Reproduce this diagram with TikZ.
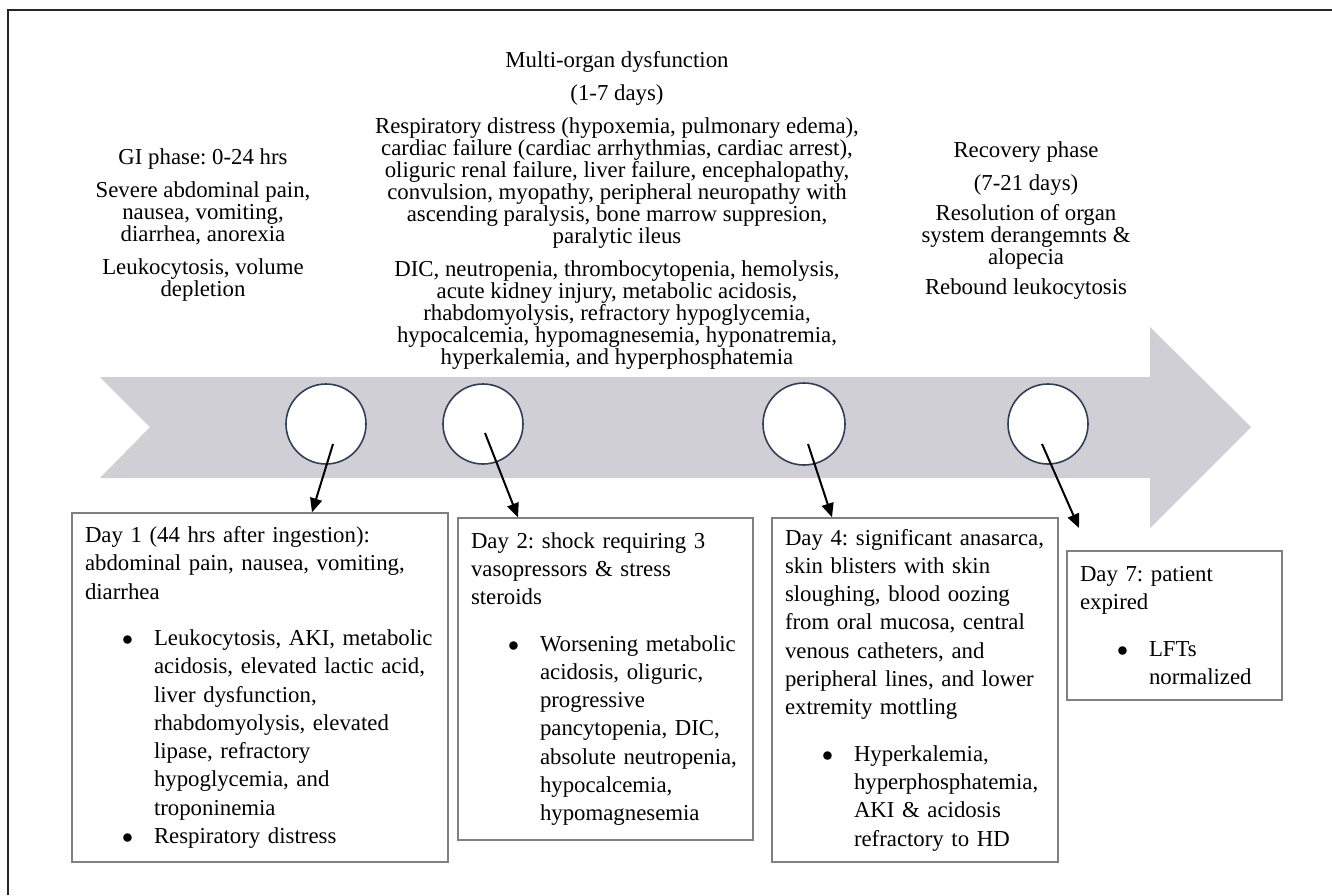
\documentclass[tikz,border=0pt]{standalone}
\usepackage{fontspec}
\setmainfont{Liberation Serif}
\usetikzlibrary{arrows.meta}

\definecolor{bandgray}{RGB}{207,207,213}
\definecolor{ringblue}{RGB}{47,63,90}
\definecolor{boxgray}{RGB}{128,128,128}

\frenchspacing
\newcommand{\dotgap}{\par\vspace{9pt}}
\newcommand{\dotitem}[1]{\par{\leftskip=34.5pt\noindent\llap{$\bullet$\hspace{10.5pt}}#1\par}}

\begin{document}
\begin{tikzpicture}[x=0.5pt,y=-0.5pt,
    phase/.style={align=center,anchor=north,inner sep=0pt,font=\fontsize{11.4}{11}\selectfont},
    ring/.style={circle,draw=ringblue,line width=0.8pt,fill=white,minimum size=40pt,inner sep=0pt},
    daybox/.style={draw=boxgray,line width=0.7pt,align=left,inner xsep=6.5pt,font=\fontsize{11.4}{14.15}\selectfont},
    pointer/.style={-{Triangle[length=7pt,width=6pt]},line width=1pt}]
    {
    \def\bandtop{377}
    \def\bandbot{478}
    \def\headtop{327}
    \def\headbot{528}
    \def\midy{427}

    \useasboundingbox (0,0) rectangle (1332,895);

    \draw[black!85,line width=1pt] (8,895) -- (8,10) -- (1332,10);

    % timeline band
    \fill[bandgray] (100,\bandtop) -- (1150,\bandtop) -- (1150,\headtop) -- (1251,\midy)
        -- (1150,\headbot) -- (1150,\bandbot) -- (100,\bandbot) -- (150,\midy) -- cycle;

    % phases
    \node[phase] (gi) at (203,148) {GI phase: 0-24 hrs\\[5.5pt]
        Severe abdominal pain,\\ nausea, vomiting,\\ diarrhea, anorexia\\[5.5pt]
        Leukocytosis, volume\\ depletion};
    \node[phase] (mod) at (617,51) {Multi-organ dysfunction\\[5.5pt]
        (1-7 days)\\[5.5pt]
        Respiratory distress (hypoxemia, pulmonary edema),\\
        cardiac failure (cardiac arrhythmias, cardiac arrest),\\
        oliguric renal failure, liver failure, encephalopathy,\\
        convulsion, myopathy, peripheral neuropathy with\\
        ascending paralysis, bone marrow suppresion,\\
        paralytic ileus\\[5.5pt]
        DIC, neutropenia, thrombocytopenia, hemolysis,\\
        acute kidney injury, metabolic acidosis,\\
        rhabdomyolysis, refractory hypoglycemia,\\
        hypocalcemia, hypomagnesemia, hyponatremia,\\
        hyperkalemia, and hyperphosphatemia};
    \node[phase] (rec) at (1026,141) {Recovery phase\\[5.5pt]
        (7-21 days)\\[4pt]
        Resolution of organ\\ system derangemnts \&\\ alopecia\\[4pt]
        Rebound leukocytosis};

    % markers on the band
    \node[ring] (r1) at (326,424) {};
    \node[ring] (r2) at (483,424) {};
    \node[ring,minimum size=41pt] (r3) at (804,424) {};
    \node[ring] (r4) at (1048,424) {};

    % day boxes
    \node[daybox,text width=175pt,minimum width=188pt,minimum height=174.5pt] (d1) at (260,687.5)
        {Day 1 (44 hrs after ingestion):\\ abdominal pain, nausea, vomiting,\\ diarrhea\dotgap
        \dotitem{Leukocytosis, AKI, metabolic\\ acidosis, elevated lactic acid,\\ liver dysfunction,\\
        rhabdomyolysis, elevated\\ lipase, refractory\\ hypoglycemia, and\\ troponinemia}
        \dotitem{Respiratory distress}};
    \node[daybox,text width=134.5pt,minimum width=147.5pt,minimum height=161pt] (d2) at (605.5,679)
        {Day 2: shock requiring 3\\ vasopressors \& stress\\ steroids\dotgap
        \dotitem{Worsening metabolic\\ acidosis, oliguric,\\ progressive\\ pancytopenia, DIC,\\
        absolute neutropenia,\\ hypocalcemia,\\ hypomagnesemia}};
    \node[daybox,text width=130pt,minimum width=143pt,minimum height=172pt] (d4) at (915,690)
        {Day 4: significant anasarca,\\ skin blisters with skin\\ sloughing, blood oozing\\
        from oral mucosa, central\\ venous catheters, and\\ peripheral lines, and lower\\
        extremity mottling\dotgap
        \dotitem{Hyperkalemia,\\ hyperphosphatemia,\\ AKI \& acidosis\\ refractory to HD}};
    \node[daybox,text width=94.5pt,minimum width=107.5pt,minimum height=74.5pt] (d7) at (1174.5,625.5)
        {Day 7: patient\\ expired\dotgap
        \dotitem{LFTs\\ normalized}};

    \coordinate (e7) at (1079,528);

    \draw[pointer] ([shift={(7,20)}]r1.center) -- ([shift={(52,0)}]d1.north);
    \draw[pointer] ([shift={(2,9)}]r2.center) -- ([shift={(-87.5,0)}]d2.north);
    \draw[pointer] ([shift={(4,20)}]r3.center) -- ([shift={(-83,0)}]d4.north);
    \draw[pointer] ([shift={(-6,20)}]r4.center) -- (e7);
}
\end{tikzpicture}
\end{document}
